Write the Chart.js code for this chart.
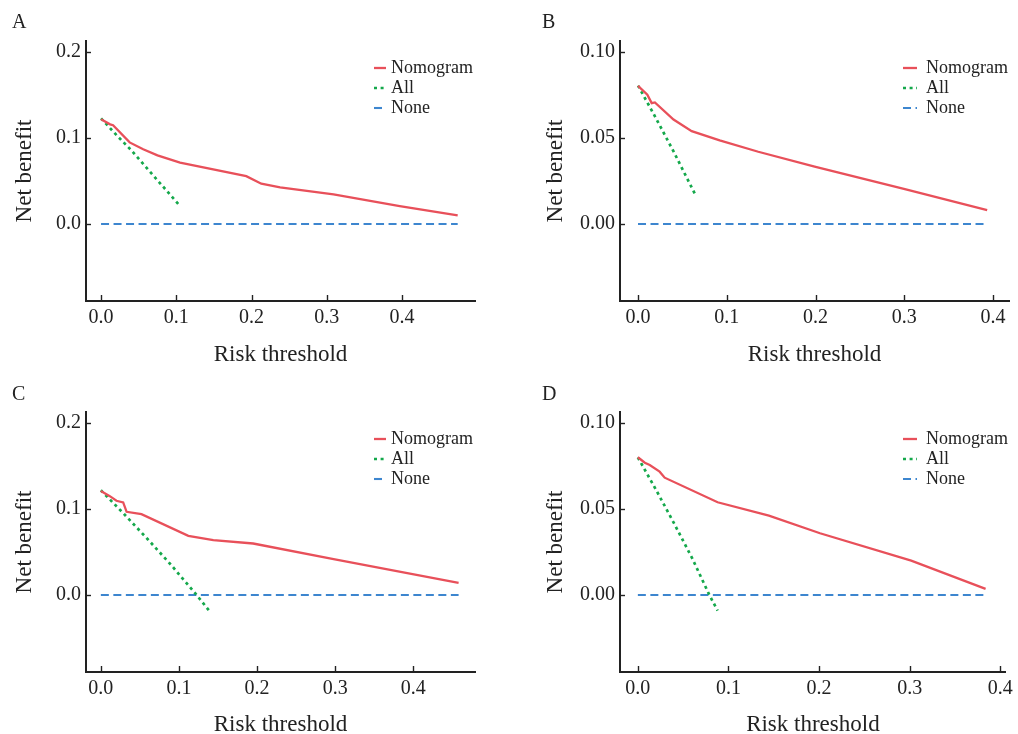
<!DOCTYPE html>
<html>
<head>
<meta charset="utf-8">
<script src="https://cdn.jsdelivr.net/npm/chart.js@4.4.1/dist/chart.umd.min.js"></script>
<style>
  html, body { margin: 0; padding: 0; background: #fff; overflow: hidden; }
  .panel { position: absolute; }
</style>
</head>
<body>
<div class="panel" style="left:0px;top:0px"><canvas id="chartA" width="509" height="367"></canvas></div>
<div class="panel" style="left:509px;top:0px"><canvas id="chartB" width="509" height="367"></canvas></div>
<div class="panel" style="left:0px;top:367px"><canvas id="chartC" width="509" height="372"></canvas></div>
<div class="panel" style="left:509px;top:367px"><canvas id="chartD" width="509" height="372"></canvas></div>
<script>
// series names
var seriesNames = ["Nomogram", "All", "None"];

// panel A
var aNomX = [0, 0.012, 0.016, 0.038, 0.056, 0.075, 0.105, 0.193, 0.213, 0.238, 0.309, 0.397, 0.474];
var aNomY = [0.122, 0.116, 0.115, 0.095, 0.087, 0.080, 0.0715, 0.0558, 0.047, 0.0427, 0.0345, 0.021, 0.0101];
var aAllX = [0, 0.02, 0.04, 0.06, 0.08, 0.105];
var aAllY = [0.123, 0.104, 0.086, 0.066, 0.046, 0.021];
var aNoneX = [0, 0.474];
var aNoneY = [0, 0];

// panel B
var bNomX = [0, 0.0105, 0.0154, 0.019, 0.04, 0.0605, 0.092, 0.1355, 0.199, 0.3007, 0.3934];
var bNomY = [0.0803, 0.0752, 0.0703, 0.0707, 0.0607, 0.054, 0.0486, 0.042, 0.0333, 0.0202, 0.0081];
var bAllX = [0, 0.02, 0.04, 0.064];
var bAllY = [0.0805, 0.0617, 0.0422, 0.0176];
var bNoneX = [0, 0.393];
var bNoneY = [0, 0];

// panel C
var cNomX = [0, 0.0115, 0.02, 0.0286, 0.033, 0.052, 0.112, 0.144, 0.195, 0.298, 0.458];
var cNomY = [0.121, 0.1151, 0.1097, 0.1078, 0.0969, 0.0942, 0.069, 0.064, 0.06, 0.0419, 0.0143];
var cAllX = [0, 0.03, 0.06, 0.09, 0.1227, 0.139];
var cAllY = [0.122, 0.094, 0.065, 0.035, 0, -0.0185];
var cNoneX = [0, 0.458];
var cNoneY = [0, 0];

// panel D
var dNomX = [0, 0.0077, 0.0131, 0.024, 0.0296, 0.088, 0.1446, 0.201, 0.3016, 0.3837];
var dNomY = [0.0801, 0.0769, 0.0756, 0.0717, 0.0682, 0.0539, 0.0461, 0.0359, 0.02, 0.0035];
var dAllX = [0, 0.02, 0.04, 0.06, 0.0789, 0.088];
var dAllY = [0.08, 0.0612, 0.0416, 0.0213, 0, -0.0091];
var dNoneX = [0, 0.3837];
var dNoneY = [0, 0];

// tick labels
var xTicks = [0, 0.1, 0.2, 0.3, 0.4];
var yTicksAC = [0, 0.1, 0.2];
var yTicksBD = [0, 0.05, 0.1];

var FONT = "'Liberation Serif', 'Times New Roman', serif";
var INK = "#222222";
var colors = ["#E8505A", "#14A84B", "#3D86CF"];
var dashes = [[], [3, 3.6], [8, 4.5]];
var widths = [2.3, 2.7, 2.1];

function pts(xs, ys) {
    var out = [];
    for (var i = 0; i < xs.length; i++) {
        out.push({ x: xs[i], y: ys[i] });
    }
    return out;
}

// draws inward tick marks, the legend and the panel letter
var decorPlugin = {
    id: "decor",
    afterDraw: function(chart, args, opts) {
        var ctx = chart.ctx;
        var area = chart.chartArea;
        ctx.save();
        ctx.strokeStyle = INK;
        ctx.lineWidth = 1.4;
        chart.scales.x.ticks.forEach(function(t) {
            var px = Math.round(chart.scales.x.getPixelForValue(t.value)) + 0.5;
            ctx.beginPath();
            ctx.moveTo(px, area.bottom);
            ctx.lineTo(px, area.bottom - 6);
            ctx.stroke();
        });
        chart.scales.y.ticks.forEach(function(t) {
            var py = Math.round(chart.scales.y.getPixelForValue(t.value)) + 0.5;
            ctx.beginPath();
            ctx.moveTo(area.left, py);
            ctx.lineTo(area.left + 5, py);
            ctx.stroke();
        });

        // legend
        ctx.font = "18px " + FONT;
        ctx.textBaseline = "middle";
        ctx.textAlign = "left";
        chart.data.datasets.forEach(function(ds, i) {
            var y = opts.legendY + i * 20;
            ctx.strokeStyle = ds.borderColor;
            ctx.lineWidth = ds.borderWidth;
            ctx.setLineDash(ds.borderDash || []);
            ctx.beginPath();
            ctx.moveTo(opts.legendX, y);
            ctx.lineTo(opts.legendX + opts.sampleW, y);
            ctx.stroke();
            ctx.setLineDash([]);
            ctx.fillStyle = INK;
            ctx.fillText(ds.label, opts.legendX + opts.textGap, y);
        });

        // panel letter
        ctx.font = "20px " + FONT;
        ctx.fillStyle = INK;
        ctx.fillText(opts.letter, opts.letterX, opts.letterY);
        ctx.restore();
    }
};

function makePanel(id, series, xr, yr, yTicks, yDec, box, deco) {
    var datasets = [];
    for (var i = 0; i < 3; i++) {
        datasets.push({
            label: seriesNames[i],
            data: pts(series[i][0], series[i][1]),
            borderColor: colors[i],
            backgroundColor: colors[i],
            borderWidth: widths[i],
            borderDash: dashes[i],
            pointRadius: 0,
            tension: 0,
            fill: false
        });
    }
    var canvas = document.getElementById(id);
    var W = canvas.width, H = canvas.height;

    return new Chart(canvas, {
        type: "line",
        data: { datasets: datasets },
        options: {
            responsive: false,
            animation: false,
            devicePixelRatio: 1,
            layout: { padding: { left: 0, top: box.top, right: W - box.right, bottom: 0 } },
            plugins: {
                legend: { display: false },
                tooltip: { enabled: false },
                decor: deco
            },
            scales: {
                x: {
                    type: "linear",
                    min: xr[0],
                    max: xr[1],
                    afterBuildTicks: function(s) { s.ticks = xTicks.map(function(v) { return { value: v }; }); },
                    afterFit: function(s) { s.height = H - box.bottom; },
                    grid: { display: true, drawOnChartArea: false, drawTicks: false },
                    border: { display: true, color: INK, width: 2 },
                    ticks: {
                        color: INK,
                        padding: 5,
                        maxRotation: 0,
                        font: { family: FONT, size: 20 },
                        callback: function(v) { return v.toFixed(1); }
                    },
                    title: {
                        display: true,
                        text: "Risk threshold",
                        color: INK,
                        font: { family: FONT, size: 23 },
                        padding: { top: 0, bottom: box.xTitlePad }
                    }
                },
                y: {
                    type: "linear",
                    min: yr[0],
                    max: yr[1],
                    afterBuildTicks: function(s) { s.ticks = yTicks.map(function(v) { return { value: v }; }); },
                    afterFit: function(s) { s.width = box.left; },
                    grid: { display: true, drawOnChartArea: false, drawTicks: false },
                    border: { display: true, color: INK, width: 2 },
                    ticks: {
                        color: INK,
                        padding: 5,
                        font: { family: FONT, size: 20 },
                        callback: function(v) { return v.toFixed(yDec); }
                    },
                    title: {
                        display: true,
                        text: "Net benefit",
                        color: INK,
                        font: { family: FONT, size: 23 },
                        padding: { top: box.yTitlePad, bottom: 0 }
                    }
                }
            }
        },
        plugins: [decorPlugin]
    });
}

makePanel("chartA",
    [[aNomX, aNomY], [aAllX, aAllY], [aNoneX, aNoneY]],
    [-0.02, 0.497], [-0.0895, 0.213], yTicksAC, 1,
    { left: 86, top: 41, right: 475, bottom: 301, yTitlePad: 11, xTitlePad: -2 },
    { letter: "A", letterX: 12, letterY: 23, legendX: 374, legendY: 68, sampleW: 12, textGap: 17 });

makePanel("chartB",
    [[bNomX, bNomY], [bAllX, bAllY], [bNoneX, bNoneY]],
    [-0.0203, 0.418], [-0.0448, 0.1064], yTicksBD, 2,
    { left: 111, top: 41, right: 500, bottom: 301, yTitlePad: 33, xTitlePad: -2 },
    { letter: "B", letterX: 33, letterY: 23, legendX: 394, legendY: 68, sampleW: 14, textGap: 23 });

makePanel("chartC",
    [[cNomX, cNomY], [cAllX, cAllY], [cNoneX, cNoneY]],
    [-0.019, 0.479], [-0.0895, 0.213], yTicksAC, 1,
    { left: 86, top: 45, right: 475, bottom: 305, yTitlePad: 11, xTitlePad: 0 },
    { letter: "C", letterX: 12, letterY: 28, legendX: 374, legendY: 72, sampleW: 12, textGap: 17 });

makePanel("chartD",
    [[dNomX, dNomY], [dAllX, dAllY], [dNoneX, dNoneY]],
    [-0.0197, 0.406], [-0.0448, 0.1064], yTicksBD, 2,
    { left: 111, top: 45, right: 500, bottom: 305, yTitlePad: 33, xTitlePad: 0 },
    { letter: "D", letterX: 33, letterY: 28, legendX: 394, legendY: 72, sampleW: 14, textGap: 23 });
</script>
</body>
</html>
